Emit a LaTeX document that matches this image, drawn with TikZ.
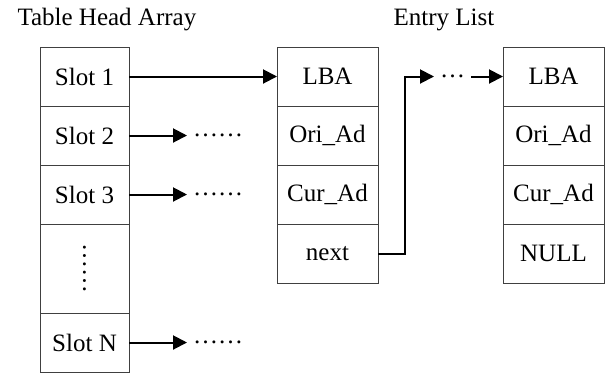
\documentclass[tikz,border=0pt]{standalone}
\usepackage{fontspec}
\setmainfont{Liberation Serif}
\usetikzlibrary{positioning, arrows.meta}

\begin{document}
\begin{tikzpicture}[x=1pt,y=-1pt,
    font=\fontsize{25pt}{30pt}\selectfont,
    cell/.style={draw=black!75,line width=1pt,minimum height=59pt,inner sep=0pt,outer sep=0pt},
    slot/.style={cell,minimum width=89pt},
    entry/.style={cell,minimum width=101pt},
    more/.style={inner sep=6pt,outer sep=0pt},
    arr/.style={line width=2pt,-{Triangle[length=14pt,width=14pt]}}]
    \useasboundingbox (0,0) rectangle (608,376);
    \node[anchor=base west] (thead) at (14,25) {Table Head Array};
    \node[anchor=base west] (elist) at (390,25) {Entry List};
    % table head array
    \node[slot] (s1) at (84.5,76.5) {Slot 1};
    \node[slot,below=0pt of s1] (s2) {Slot 2};
    \node[slot,below=0pt of s2] (s3) {Slot 3};
    \node[slot,below=0pt of s3,minimum height=89pt] (sd) {\rotatebox{90}{……}};
    \node[slot,below=0pt of sd] (sn) {Slot N};
    % first entry
    \node[entry] (a1) at (327.5,76.5) {LBA};
    \node[entry,below=0pt of a1] (a2) {Ori\_Ad};
    \node[entry,below=0pt of a2] (a3) {Cur\_Ad};
    \node[entry,below=0pt of a3] (a4) {next};
    % last entry
    \node[entry] (b1) at (553.5,76.5) {LBA};
    \node[entry,below=0pt of b1] (b2) {Ori\_Ad};
    \node[entry,below=0pt of b2] (b3) {Cur\_Ad};
    \node[entry,below=0pt of b3] (b4) {NULL};
    % dots after the arrows
    \node[more,right=58pt of s2] (m2) {……};
    \node[more,right=58pt of s3] (m3) {……};
    \node[more,right=58pt of sn] (mn) {……};
    \node[more,right=56pt of a1] (mid) {…};
    \path[arr]
        (s1) edge (a1)
        (s2) edge (m2)
        (s3) edge (m3)
        (sn) edge (mn)
        (mid) edge (b1);
    \draw[arr] (a4.east) -- ++(27,0) |- (mid.west);
\end{tikzpicture}
\end{document}
